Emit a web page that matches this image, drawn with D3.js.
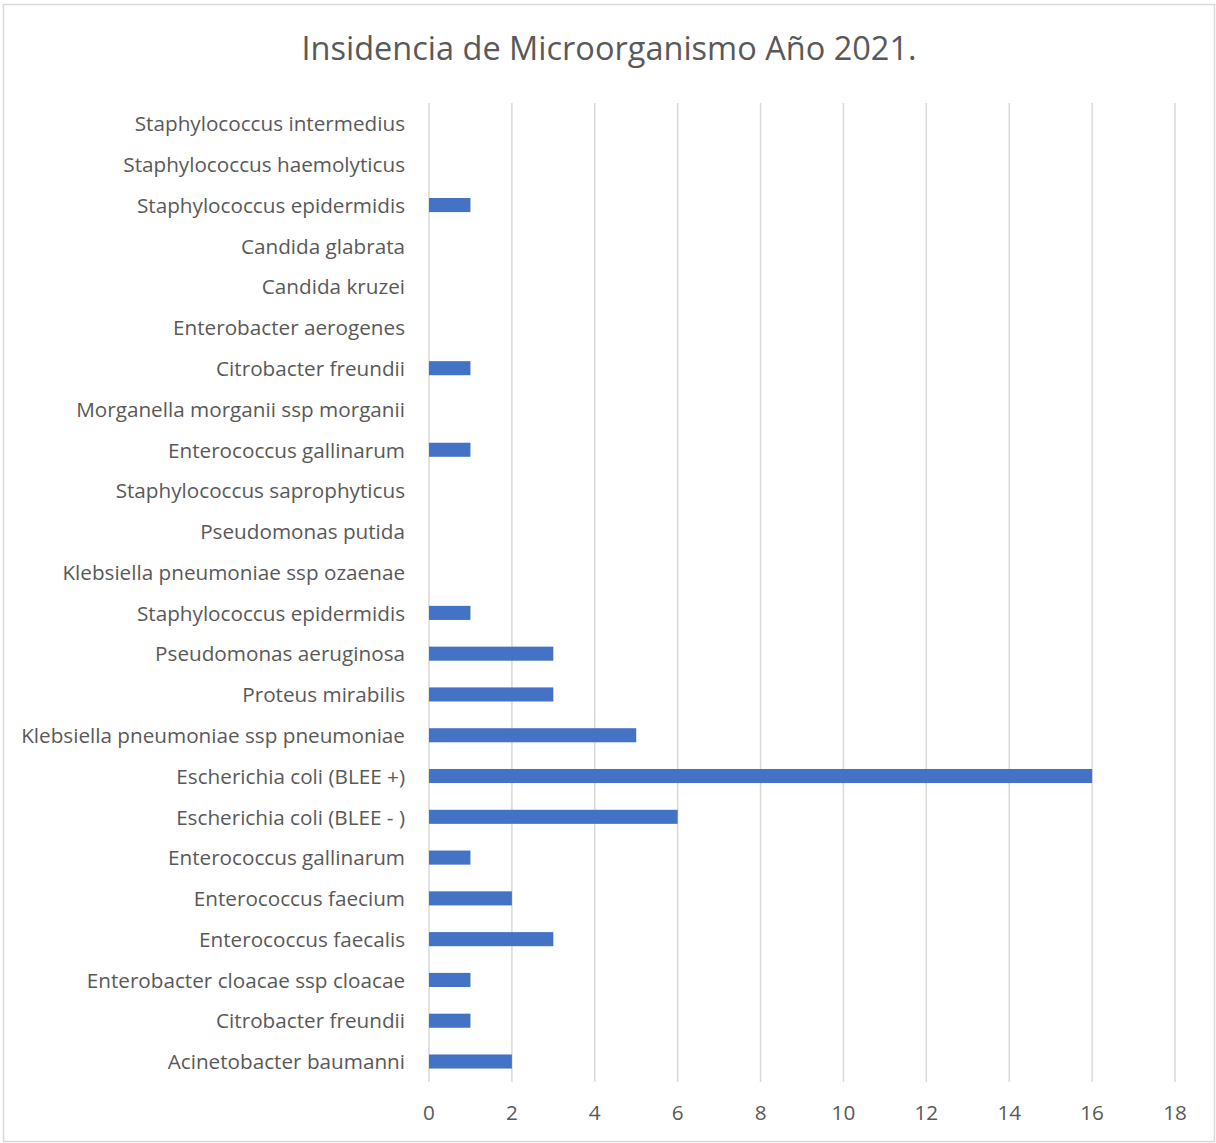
<!DOCTYPE html>
<html><head><meta charset="utf-8">
<script src="https://cdn.jsdelivr.net/npm/d3@7"></script>
<style>body{margin:0;background:#fff}svg{display:block}</style>
</head><body>
<script>
const title = "Insidencia de Microorganismo Año 2021.";
const categories = [
 "Staphylococcus intermedius","Staphylococcus haemolyticus","Staphylococcus epidermidis",
 "Candida glabrata","Candida kruzei","Enterobacter aerogenes","Citrobacter freundii",
 "Morganella morganii ssp morganii","Enterococcus gallinarum","Staphylococcus saprophyticus",
 "Pseudomonas putida","Klebsiella pneumoniae ssp ozaenae","Staphylococcus epidermidis",
 "Pseudomonas aeruginosa","Proteus mirabilis","Klebsiella pneumoniae ssp pneumoniae",
 "Escherichia coli (BLEE +)","Escherichia coli (BLEE - )","Enterococcus gallinarum",
 "Enterococcus faecium","Enterococcus faecalis","Enterobacter cloacae ssp cloacae",
 "Citrobacter freundii","Acinetobacter baumanni"];
const values = [0,0,1,0,0,0,1,0,1,0,0,0,1,3,3,5,16,6,1,2,3,1,1,2];
const xTicks = [0,2,4,6,8,10,12,14,16,18];

(function(){
const W=1216,H=1143;
const svg=d3.select("body").append("svg").attr("width",W).attr("height",H);
svg.append("rect").attr("x",3.5).attr("y",4.5).attr("width",W-5).attr("height",H-6)
  .attr("fill","#fff").attr("stroke","#d9d9d9").attr("stroke-width",1.5);
const font="'Open Sans', Lato, sans-serif";
const pl=429,pr=1175,pt=103,pb=1082;
const x=d3.scaleLinear().domain([0,18]).range([pl,pr]);
const y=d3.scaleBand().domain(d3.range(categories.length)).range([pt,pb]).paddingInner(0.655).paddingOuter(0.33);

svg.append("text").attr("x",609).attr("y",60).attr("text-anchor","middle")
  .attr("font-family",font).attr("font-size",32.5).attr("fill","#595959").text(title);

svg.append("g").selectAll("line").data(xTicks).join("line")
  .attr("x1",d=>x(d)).attr("x2",d=>x(d)).attr("y1",pt).attr("y2",pb)
  .attr("stroke","#d9d9d9").attr("stroke-width",1.5);

svg.append("g").selectAll("rect").data(values).join("rect")
  .attr("x",x(0)).attr("y",(d,i)=>y(i)).attr("width",d=>x(d)-x(0)).attr("height",y.bandwidth())
  .attr("fill","#4472c4");

svg.append("g").selectAll("text").data(categories).join("text")
  .attr("x",405).attr("y",(d,i)=>y(i)+y.bandwidth()/2+0.5).attr("dy","0.35em")
  .attr("text-anchor","end").attr("font-family",font).attr("font-size",20.7).attr("fill","#595959")
  .text(d=>d);

svg.append("g").selectAll("text").data(xTicks).join("text")
  .attr("x",d=>x(d)).attr("y",1113).attr("dy","0.35em").attr("text-anchor","middle")
  .attr("font-family",font).attr("font-size",20.7).attr("fill","#595959").text(d=>d);
})();
</script>
</body></html>
